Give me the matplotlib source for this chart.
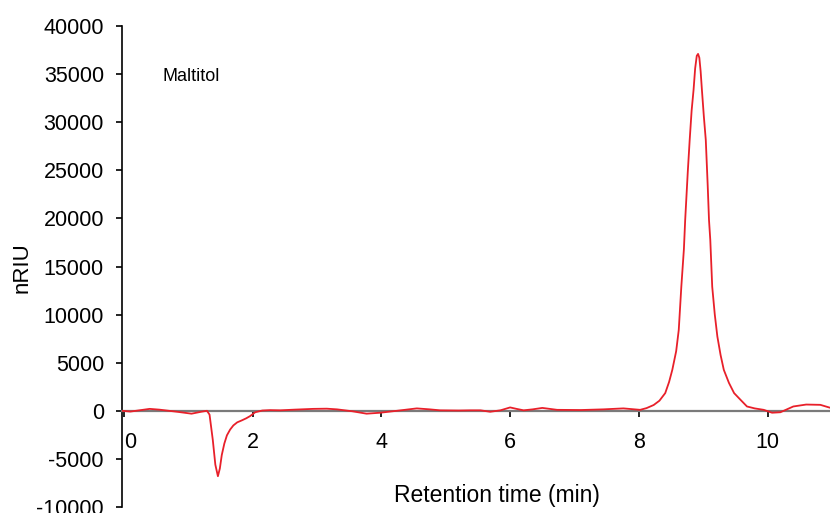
import matplotlib
matplotlib.use('Agg')
import matplotlib.pyplot as plt
import numpy as np

# Chromatogram (time in min, signal in nRIU)
time_min = [-0.03, 0.10, 0.25, 0.40, 0.55, 0.70, 0.85, 1.05, 1.20, 1.29, 1.33,
            1.38, 1.42, 1.46, 1.49, 1.52, 1.56, 1.60, 1.65, 1.70, 1.76, 1.83,
            1.90, 1.96, 2.04, 2.15, 2.27, 2.43, 2.65, 2.94, 3.15, 3.31, 3.55,
            3.77, 3.98, 4.24, 4.55, 4.75, 4.91, 5.20, 5.38, 5.54, 5.69, 5.85,
            6.00, 6.10, 6.21, 6.35, 6.50, 6.73, 7.10, 7.45, 7.76, 8.02, 8.12,
            8.23, 8.32, 8.41, 8.47, 8.52, 8.58, 8.62, 8.66, 8.70, 8.72, 8.76,
            8.79, 8.82, 8.85, 8.875, 8.90, 8.92, 8.94, 8.96, 8.98, 9.01, 9.04,
            9.07, 9.09, 9.11, 9.14, 9.18, 9.22, 9.27, 9.32, 9.40, 9.48, 9.58,
            9.68, 9.80, 9.94, 10.07, 10.20, 10.30, 10.40, 10.60, 10.82, 10.98]
signal = [0, -80, 60, 200, 120, 0, -120, -300, -100, 0, -400,
          -3000, -5600, -6800, -6000, -4600, -3400, -2550, -1950, -1520, -1200, -1000,
          -780, -550, -150, 30, 70, 50, 120, 200, 220, 150, -50,
          -300, -200, 0, 250, 150, 50, 30, 50, 50, -100, 50,
          350, 200, 50, 150, 300, 100, 80, 150, 250, 100, 280,
          600, 1050, 1840, 3000, 4260, 6200, 8400, 12900, 16800, 19840, 24800,
          28160, 31200, 33350, 35600, 36900, 37100, 36700, 35300, 33350, 30600, 28160,
          23400, 19840, 17770, 12900, 10000, 7720, 5800, 4260, 2900, 1840, 1140,
          450, 250, 100, -200, -150, 150, 450, 650, 620, 300]

x_ticks = [0, 2, 4, 6, 8, 10]
y_ticks = [-10000, -5000, 0, 5000, 10000, 15000, 20000, 25000, 30000, 35000, 40000]

plt.rcParams['font.family'] = ['Liberation Sans', 'DejaVu Sans']

fig = plt.figure(figsize=(8.3, 5.13), dpi=100)
ax = fig.add_axes([0.147, 0.0117, 0.853, 0.9376])

ax.plot(time_min, signal, color='#e8202a', linewidth=1.3, zorder=3)

ax.set_xlim(-0.03, 10.97)
ax.set_ylim(-10000, 40000)

ax.spines['top'].set_visible(False)
ax.spines['right'].set_visible(False)
ax.spines['bottom'].set_position(('data', 0))
ax.spines['bottom'].set_color('#7a7a7a')
ax.spines['bottom'].set_linewidth(1.6)
ax.spines['left'].set_linewidth(1.2)

ax.set_xticks(x_ticks)
ax.set_yticks(y_ticks)
ax.set_xticklabels([str(t) for t in x_ticks])
ax.set_yticklabels([str(t) for t in y_ticks])
ax.tick_params(axis='x', direction='out', length=4, width=1.2, pad=11, labelsize=15.5)
ax.tick_params(axis='y', direction='out', length=4, width=1.2, pad=9, labelsize=15.5)
ax.get_xticklabels()[0].set_horizontalalignment('left')

fig.text(0.027, 0.478, 'nRIU', rotation=90, fontsize=16, ha='center', va='center')
fig.text(0.599, 0.035, 'Retention time (min)', fontsize=16.5, ha='center', va='center')
ax.text(0.6, 34700, 'Maltitol', fontsize=13, ha='left', va='center')

fig.savefig('out.png', dpi=100)
plt.close(fig)
